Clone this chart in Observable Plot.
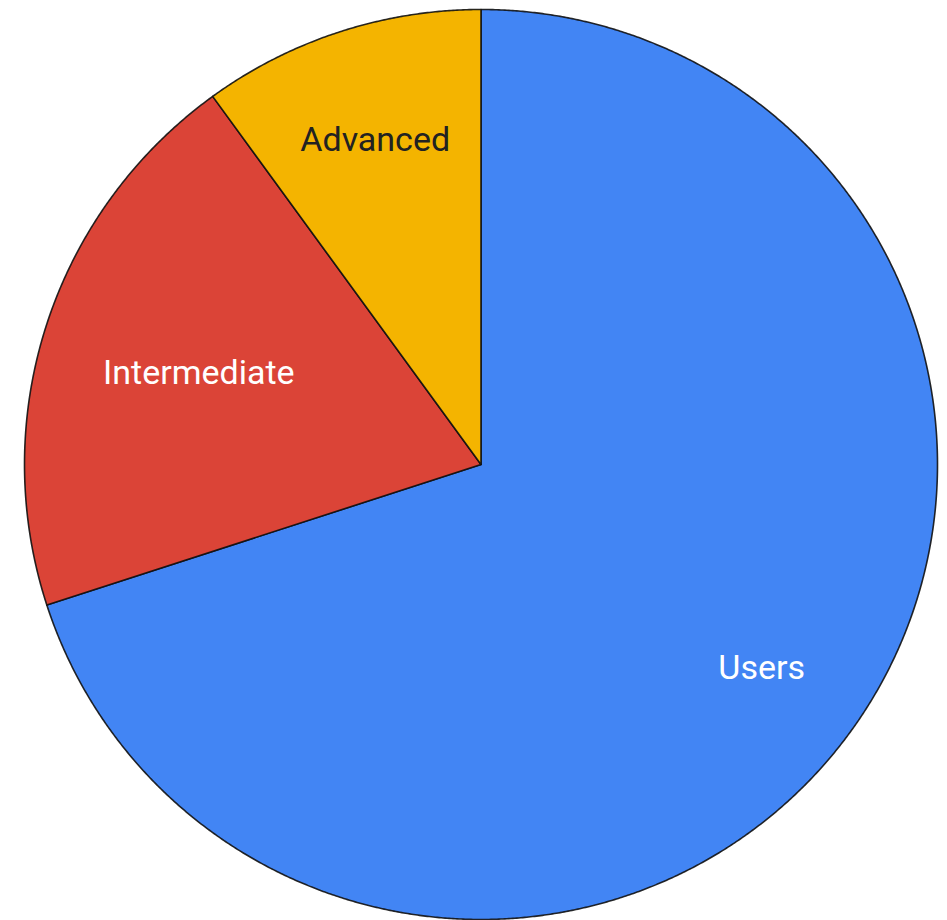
<!DOCTYPE html>
<html>
<head>
<meta charset="utf-8">
<script src="https://cdn.jsdelivr.net/npm/d3@7"></script>
<script src="https://cdn.jsdelivr.net/npm/@observablehq/plot@0.6"></script>
<style>
  html, body { margin: 0; padding: 0; background: #fff; }
  #chart svg { display: block; }
</style>
</head>
<body>
<div id="chart"></div>
<script>
// Data
const categories = ["Users", "Intermediate", "Advanced"];
const values = [70, 20, 10];
const colors = ["#4285F4", "#DB4437", "#F4B400"];

// Build slice geometry (angles clockwise from 12 o'clock) via d3.pie
const pie = d3.pie().sort(null).value(d => d.value);
const arcs = pie(categories.map((c, i) => ({category: c, value: values[i]})));

const slicePoints = [];
for (const a of arcs) {
  const c = a.data.category;
  slicePoints.push({category: c, x: 0, y: 0});
  const n = Math.max(2, Math.ceil((a.endAngle - a.startAngle) / (Math.PI / 720)));
  for (let k = 0; k <= n; k++) {
    const t = a.startAngle + (a.endAngle - a.startAngle) * k / n;
    slicePoints.push({category: c, x: Math.sin(t), y: Math.cos(t)});
  }
}

const labelDist = {Users: 0.76, Intermediate: 0.65, Advanced: 0.75};
const labelFill = {Users: "#ffffff", Intermediate: "#ffffff", Advanced: "#222222"};
const labels = arcs.map(a => {
  const m = (a.startAngle + a.endAngle) / 2;
  const r = labelDist[a.data.category];
  return {category: a.data.category, x: r * Math.sin(m), y: r * Math.cos(m)};
});

const chart = Plot.plot({
  width: 947,
  height: 920,
  marginLeft: 24,
  marginRight: 10,
  marginTop: 9,
  marginBottom: 1,
  x: {domain: [-1, 1], axis: null},
  y: {domain: [-1, 1], axis: null},
  color: {domain: categories, range: colors},
  style: {fontFamily: "Roboto, sans-serif", background: "#fff"},
  marks: [
    Plot.line(slicePoints, {
      x: "x", y: "y", z: "category",
      fill: "category",
      stroke: "#111",
      strokeWidth: 1.6,
      strokeOpacity: 0.9,
      curve: "linear-closed"
    }),
    Plot.text(labels, {
      x: "x", y: "y", text: "category",
      fill: d => labelFill[d.category],
      fontSize: 34,
      fontFamily: "Roboto, sans-serif"
    })
  ]
});
document.getElementById("chart").appendChild(chart);
</script>
</body>
</html>
